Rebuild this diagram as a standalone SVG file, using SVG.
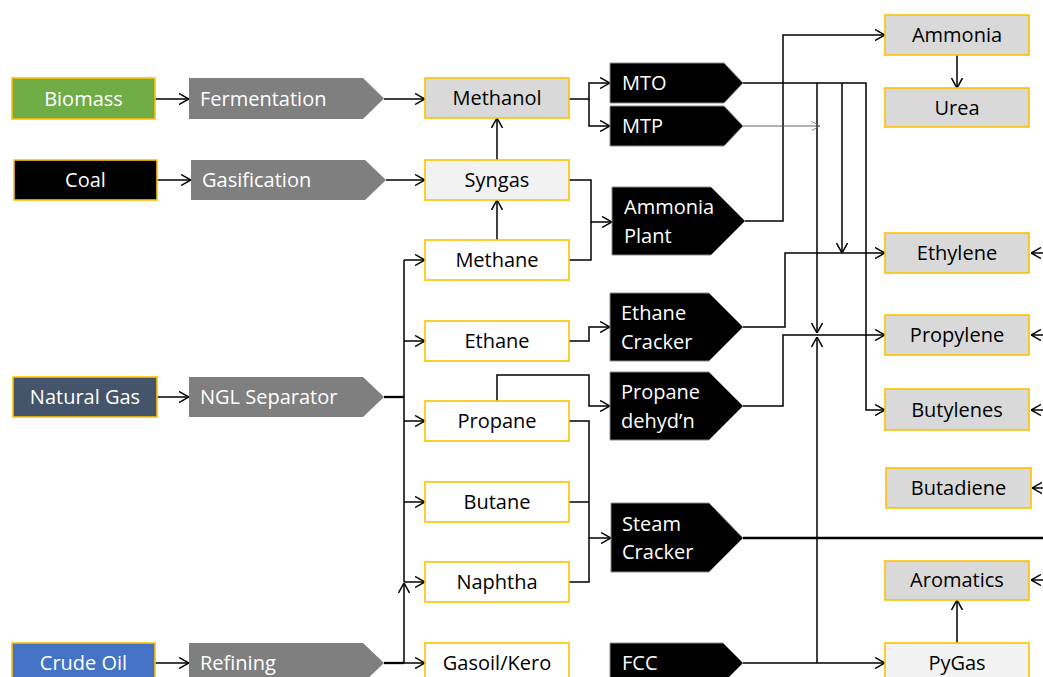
<svg xmlns="http://www.w3.org/2000/svg" width="1043" height="677" viewBox="0 0 1043 677">
<style>
text{font-family:"Open Sans","Noto Sans","Liberation Sans",sans-serif;font-size:20px}
.box{stroke:#FFC000;stroke-width:1.6}
.light{fill:#fff}
.g1{fill:#F2F2F2}
.g2{fill:#D9D9D9}
.dk{fill:#000;text-anchor:middle}
.wt{fill:#fff;text-anchor:middle}
.wl{fill:#fff}
.proc{fill:#7F7F7F}
.blk{fill:#000;stroke:#8a8a8a;stroke-width:1}
.c{fill:none;stroke:#000;stroke-width:1.5}
.thin{fill:none;stroke:#555;stroke-width:0.9}
.thick{fill:none;stroke:#000;stroke-width:2.3}
</style>
<defs>
<marker id="a" viewBox="0 0 10 12" refX="10" refY="6" markerWidth="10" markerHeight="12" markerUnits="userSpaceOnUse" orient="auto"><path d="M0,0.5 L10,6 L0,11.5" fill="none" stroke="#000" stroke-width="1.5"/></marker>
<marker id="t" viewBox="0 0 10 12" refX="10" refY="6" markerWidth="9" markerHeight="10" markerUnits="userSpaceOnUse" orient="auto"><path d="M0,0.5 L10,6 L0,11.5" fill="none" stroke="#777" stroke-width="1"/></marker>
</defs>

<g id="connectors">
<path class="c" marker-end="url(#a)" d="M155,99 H189"/>
<path class="c" marker-end="url(#a)" d="M157,180 H191"/>
<path class="c" marker-end="url(#a)" d="M157,397 H189"/>
<path class="c" marker-end="url(#a)" d="M155,663 H189"/>
<path class="c" marker-end="url(#a)" d="M384,99 H425"/>
<path class="c" marker-end="url(#a)" d="M386,180 H425"/>
<path class="c" marker-end="url(#a)" d="M497,160 V118"/>
<path class="c" marker-end="url(#a)" d="M497,240 V200"/>
<path class="c" marker-end="url(#a)" d="M569,99 H589 V83 H610"/>
<path class="c" marker-end="url(#a)" d="M589,99 V126 H610"/>
<path class="c" marker-end="url(#a)" d="M569,180 H591 V222 H612"/>
<path class="c" d="M569,260 H591 V222"/>
<path class="c" marker-end="url(#a)" d="M745,221 H783 V35 H885"/>
<path class="c" marker-end="url(#a)" d="M957,55 V88"/>
<path class="c" marker-end="url(#a)" d="M743,83 H866 V410 H885"/>
<path class="c" marker-end="url(#a)" d="M817,83 V333"/>
<path class="c" marker-end="url(#a)" d="M842,83 V253"/>
<path class="thin" marker-end="url(#t)" d="M743,126 H820"/>
<path class="c" marker-end="url(#a)" d="M569,341 H589 V327 H610"/>
<path class="c" marker-end="url(#a)" d="M743,327 H785 V253 H885"/>
<path class="c" marker-end="url(#a)" d="M497,401 V375 H589 V406 H610"/>
<path class="c" marker-end="url(#a)" d="M743,406 H783 V335 H885"/>
<path class="c" marker-end="url(#a)" d="M569,421 H589 V538 H611"/>
<path class="c" d="M569,502 H589"/>
<path class="c" d="M569,582 H589 V538"/>
<path class="thick" d="M743,538 H1043"/>
<path class="c" marker-end="url(#a)" d="M743,663 H885"/>
<path class="c" marker-end="url(#a)" d="M817,663 V337"/>
<path class="c" marker-end="url(#a)" d="M957,643 V600"/>
<path class="thick" d="M384,397 H404"/>
<path class="c" d="M404,260 V582"/>
<path class="c" marker-end="url(#a)" d="M404,260 H425"/>
<path class="c" marker-end="url(#a)" d="M404,341 H425"/>
<path class="c" marker-end="url(#a)" d="M404,421 H425"/>
<path class="c" marker-end="url(#a)" d="M404,502 H425"/>
<path class="c" marker-end="url(#a)" d="M404,582 H425"/>
<path class="thick" d="M384,663 H404"/>
<path class="c" marker-end="url(#a)" d="M404,663 V583"/>
<path class="c" marker-end="url(#a)" d="M404,663 H425"/>
<path class="c" marker-end="url(#a)" d="M1043,253 H1031"/>
<path class="c" marker-end="url(#a)" d="M1043,335 H1031"/>
<path class="c" marker-end="url(#a)" d="M1043,410 H1031"/>
<path class="c" marker-end="url(#a)" d="M1043,488 H1032"/>
<path class="c" marker-end="url(#a)" d="M1043,580 H1031"/>
</g>

<g id="biomass"><rect class="box" x="12" y="78" width="143" height="41" fill="#70AD47"/><text class="wt" x="83.5" y="106">Biomass</text></g>
<g id="coal"><rect class="box" x="14" y="160" width="143" height="40" fill="#000"/><text class="wt" x="85.5" y="187">Coal</text></g>
<g id="natural-gas"><rect class="box" x="13" y="377" width="144" height="40" fill="#44546A"/><text class="wt" x="85" y="404">Natural Gas</text></g>
<g id="crude-oil"><rect class="box" x="12" y="643" width="143" height="42" fill="#4472C4"/><text class="wt" x="83.5" y="670">Crude Oil</text></g>

<g id="fermentation"><path class="proc" d="M189,78 H363 L384,98.5 L363,119 H189 Z"/><text class="wl" x="200" y="106">Fermentation</text></g>
<g id="gasification"><path class="proc" d="M191,160 H365 L386,180 L365,200 H191 Z"/><text class="wl" x="202" y="187">Gasification</text></g>
<g id="ngl-separator"><path class="proc" d="M189,377 H363 L384,397 L363,417 H189 Z"/><text class="wl" x="200" y="404">NGL Separator</text></g>
<g id="refining"><path class="proc" d="M189,643 H363 L384,663 L363,683 H189 Z"/><text class="wl" x="200" y="670">Refining</text></g>

<g id="methanol"><rect class="box g2" x="425" y="78" width="144" height="40"/><text class="dk" x="497" y="105">Methanol</text></g>
<g id="syngas"><rect class="box g1" x="425" y="160" width="144" height="40"/><text class="dk" x="497" y="187">Syngas</text></g>
<g id="methane"><rect class="box light" x="425" y="240" width="144" height="40"/><text class="dk" x="497" y="267">Methane</text></g>
<g id="ethane"><rect class="box light" x="425" y="321" width="144" height="40"/><text class="dk" x="497" y="348">Ethane</text></g>
<g id="propane"><rect class="box light" x="425" y="401" width="144" height="40"/><text class="dk" x="497" y="428">Propane</text></g>
<g id="butane"><rect class="box light" x="425" y="482" width="144" height="40"/><text class="dk" x="497" y="509">Butane</text></g>
<g id="naphtha"><rect class="box light" x="425" y="562" width="144" height="40"/><text class="dk" x="497" y="589">Naphtha</text></g>
<g id="gasoil-kero"><rect class="box light" x="425" y="643" width="144" height="42"/><text class="dk" x="497" y="670">Gasoil/Kero</text></g>

<g id="mto"><path class="blk" d="M610,63 H724 L743,83 L724,103 H610 Z"/><text class="wl" x="622" y="90">MTO</text></g>
<g id="mtp"><path class="blk" d="M610,106 H724 L743,126 L724,146 H610 Z"/><text class="wl" x="622" y="133">MTP</text></g>
<g id="ammonia-plant"><path class="blk" d="M612,187 H711 L745,221 L711,255 H612 Z"/><text class="wl" x="624" y="214">Ammonia</text><text class="wl" x="624" y="243">Plant</text></g>
<g id="ethane-cracker"><path class="blk" d="M610,293 H709 L743,327 L709,361 H610 Z"/><text class="wl" x="621" y="320">Ethane</text><text class="wl" x="621" y="349">Cracker</text></g>
<g id="propane-dehydn"><path class="blk" d="M610,372 H709 L743,406 L709,440 H610 Z"/><text class="wl" x="621" y="399">Propane</text><text class="wl" x="621" y="428">dehyd’n</text></g>
<g id="steam-cracker"><path class="blk" d="M611,503 H709 L743,538 L709,572 H611 Z"/><text class="wl" x="622" y="531">Steam</text><text class="wl" x="622" y="559">Cracker</text></g>
<g id="fcc"><path class="blk" d="M610,643 H723 L743,663 L723,683 H610 Z"/><text class="wl" x="622" y="670">FCC</text></g>

<g id="ammonia"><rect class="box g2" x="885" y="15" width="144" height="40"/><text class="dk" x="957" y="42">Ammonia</text></g>
<g id="urea"><rect class="box g2" x="885" y="88" width="144" height="39"/><text class="dk" x="957" y="115">Urea</text></g>
<g id="ethylene"><rect class="box g2" x="885" y="233" width="144" height="40"/><text class="dk" x="957" y="260">Ethylene</text></g>
<g id="propylene"><rect class="box g2" x="885" y="315" width="144" height="40"/><text class="dk" x="957" y="342">Propylene</text></g>
<g id="butylenes"><rect class="box g2" x="885" y="389" width="144" height="41"/><text class="dk" x="957" y="417">Butylenes</text></g>
<g id="butadiene"><rect class="box g2" x="886" y="468" width="145" height="40"/><text class="dk" x="958.5" y="495">Butadiene</text></g>
<g id="aromatics"><rect class="box g2" x="885" y="561" width="144" height="39"/><text class="dk" x="957" y="587">Aromatics</text></g>
<g id="pygas"><rect class="box g1" x="885" y="643" width="144" height="42"/><text class="dk" x="957" y="670">PyGas</text></g>
</svg>
